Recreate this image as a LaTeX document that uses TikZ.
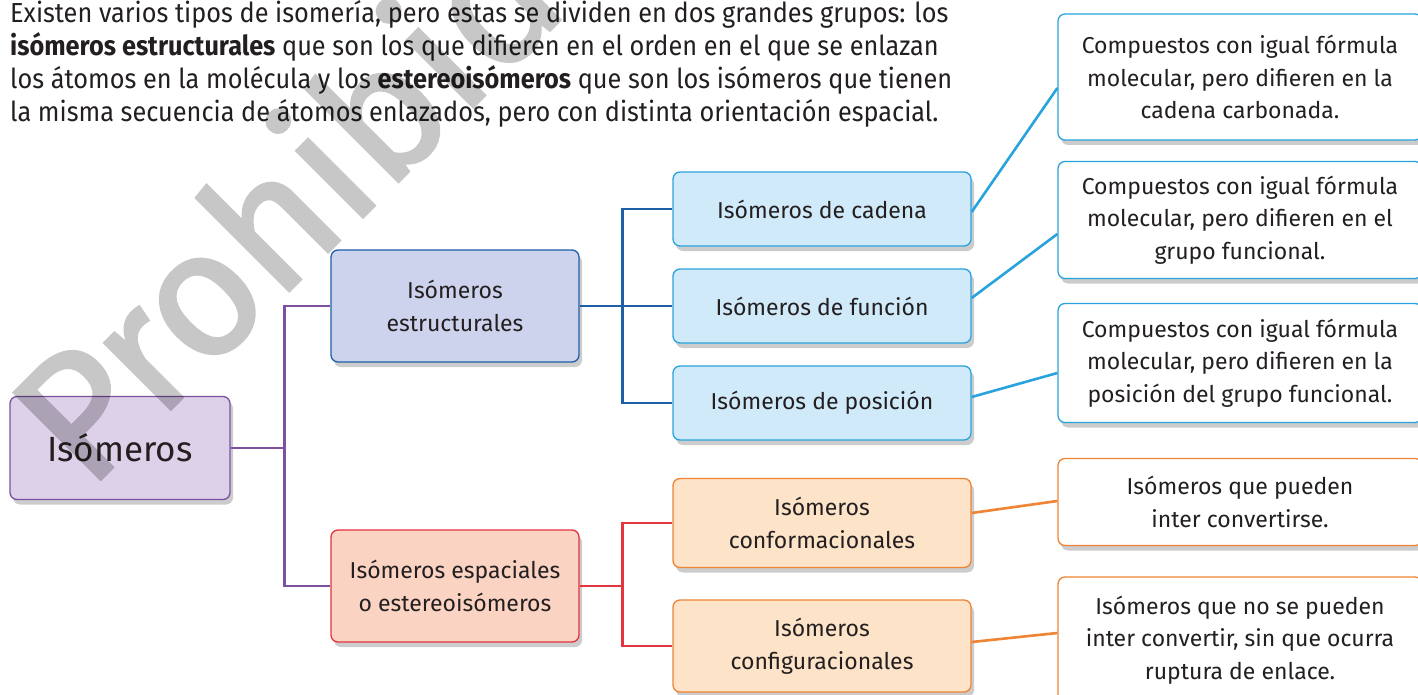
\documentclass[tikz,border=0pt]{standalone}
\usepackage{fontspec}
\setmainfont{Fira Sans}
\newfontfamily\introfont[FakeStretch=0.92]{Fira Sans}
\newfontfamily\marcafont[FakeBold=1.6]{Fira Sans}
\usetikzlibrary{shadows}

\definecolor{txt}{HTML}{231F20}
\definecolor{moradoB}{HTML}{7D519F}
\definecolor{moradoF}{HTML}{DCD1E8}
\definecolor{azulB}{HTML}{1F5FA8}
\definecolor{azulF}{HTML}{CDD3EC}
\definecolor{celesteB}{HTML}{29A3DD}
\definecolor{celesteF}{HTML}{D0EAF9}
\definecolor{rojoB}{HTML}{E4343F}
\definecolor{rojoF}{HTML}{FAD3C3}
\definecolor{naranjaB}{HTML}{EE8434}
\definecolor{naranjaF}{HTML}{FDE3C8}

\begin{document}
\begin{tikzpicture}[x=1pt, y=-1pt,
  caja/.style={draw, line width=1.3pt, rounded corners=7pt, align=center,
    text=txt, inner sep=0pt, font=\fontsize{23}{32.5}\selectfont,
    drop shadow={shadow xshift=3pt, shadow yshift=-5pt, opacity=0.2, fill=black}},
  raiz/.style={caja, draw=moradoB, fill=moradoF, font=\fontsize{35}{40}\selectfont},
  estr/.style={caja, draw=azulB, fill=azulF},
  espa/.style={caja, draw=rojoB, fill=rojoF},
  cel/.style={caja, draw=celesteB, fill=celesteF},
  nar/.style={caja, draw=naranjaB, fill=naranjaF},
  defcel/.style={caja, draw=celesteB, fill=white},
  defnar/.style={caja, draw=naranjaB, fill=white},
  lin/.style={line width=2.6pt},
]
  \useasboundingbox (0,0) rectangle (1418,695);
  \fill[white] (0,0) rectangle (1418,695);
  \clip (0,0) rectangle (1418,695);

  % texto de entrada
  \node[anchor=north west, align=left, inner sep=0pt, text=txt,
        font=\introfont\fontsize{27.5}{33}\selectfont] (intro) at (10,0)
    {Existen varios tipos de isomería, pero estas se dividen en dos grandes grupos: los\\
     \textbf{isómeros estructurales} que son los que difieren en el orden en el que se enlazan\\
     los átomos en la molécula y los \textbf{estereoisómeros} que son los isómeros que tienen\\
     la misma secuencia de átomos enlazados, pero con distinta orientación espacial.};

  % cajas
  \node[raiz, minimum width=220, minimum height=103] (iso) at (120,448) {Isómeros};
  \node[estr, minimum width=248, minimum height=112] (est) at (455,306) {Isómeros\\estructurales};
  \node[espa, minimum width=248, minimum height=112] (esp) at (455,586) {Isómeros espaciales\\o estereoisómeros};

  \node[cel, minimum width=298, minimum height=74] (cad) at (822,209) {Isómeros de cadena};
  \node[cel, minimum width=298, minimum height=74] (fun) at (822,306) {Isómeros de función};
  \node[cel, minimum width=298, minimum height=74] (pos) at (822,403) {Isómeros de posición};
  \node[nar, minimum width=298, minimum height=89] (conf) at (822,523) {Isómeros\\conformacionales};
  \node[nar, minimum width=298, minimum height=92] (confi) at (822,646) {Isómeros\\configuracionales};

  \node[defcel, minimum width=364, minimum height=126] (dcad) at (1240,77)
    {Compuestos con igual fórmula\\molecular, pero difieren en la\\cadena carbonada.};
  \node[defcel, minimum width=364, minimum height=117] (dfun) at (1240,220)
    {Compuestos con igual fórmula\\molecular, pero difieren en el\\grupo funcional.};
  \node[defcel, minimum width=364, minimum height=119] (dpos) at (1240,363)
    {Compuestos con igual fórmula\\molecular, pero difieren en la\\posición del grupo funcional.};
  \node[defnar, minimum width=364, minimum height=87] (dconf) at (1240,502)
    {Isómeros que pueden\\inter convertirse.};
  \node[defnar, minimum width=364, minimum height=126] (dconfi) at (1240,640)
    {Isómeros que no se pueden\\inter convertir, sin que ocurra\\ruptura de enlace.};

  % conectores
  \draw[lin, moradoB] (iso.east) -- ++(54,0) |- (est.west);
  \draw[lin, moradoB] (iso.east) -- ++(54,0) |- (esp.west);
  \draw[lin, azulB] (est.east) -- ++(43,0) |- (cad.west);
  \draw[lin, azulB] (est.east) -- (fun.west);
  \draw[lin, azulB] (est.east) -- ++(43,0) |- (pos.west);
  \draw[lin, rojoB] (esp.east) -- ++(43,0) |- (conf.west);
  \draw[lin, rojoB] (esp.east) -- ++(43,0) |- (confi.west);

  \draw[lin, celesteB] ([yshift=-3pt]cad.east) -- ([yshift=-11pt]dcad.west);
  \draw[lin, celesteB] ([yshift=8pt]fun.east) -- ([yshift=-14pt]dfun.west);
  \draw[lin, celesteB] ([yshift=6pt]pos.east) -- ([yshift=-10pt]dpos.west);
  \draw[lin, naranjaB] ([yshift=10pt]conf.east) -- ([yshift=1pt]dconf.west);
  \draw[lin, naranjaB] ([yshift=4pt]confi.east) -- ([yshift=7pt]dconfi.west);

  % marca de agua
  \begin{scope}[transparency group, opacity=0.22]
    \node[rotate=45, anchor=base west, inner sep=0pt, text=black,
          font=\marcafont\fontsize{178}{178}\selectfont] (marca) at (88,492) {Prohibida};
  \end{scope}
\end{tikzpicture}
\end{document}
